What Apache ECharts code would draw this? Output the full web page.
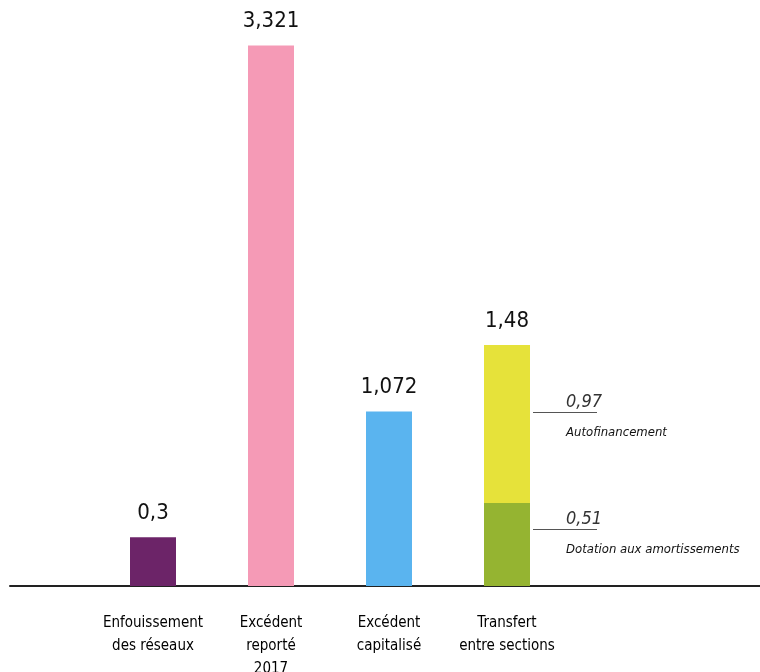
<!DOCTYPE html>
<html>
<head>
<meta charset="utf-8">
<script src="https://cdn.jsdelivr.net/npm/echarts@6/dist/echarts.min.js"></script>
<style>
html,body{margin:0;padding:0;background:#fff;}
#chart{width:760px;height:672px;}
</style>
</head>
<body>
<div id="chart"></div>
<script>
var categories = ['Enfouissement\ndes réseaux', 'Excédent\nreporté\n2017', 'Excédent\ncapitalisé', 'Transfert\nentre sections'];
var mainValues = [0.3, 3.321, 1.072, null];
var mainColors = ['#6c2468', '#f59ab6', '#5ab4ef', null];
var dotationValues = [null, null, null, 0.51];
var autofinValues = [null, null, null, 0.97];
var totalValues = [null, null, null, 1.48];
var dotationName = 'Dotation aux amortissements';
var autofinName = 'Autofinancement';

var FONT = "'Liberation Sans Narrow','DejaVu Sans Condensed','Roboto Condensed','Liberation Sans',sans-serif";
function fmt(v){ return String(v).replace('.', ','); }

var chart = echarts.init(document.getElementById('chart'), null, {renderer:'canvas'});

function annotRich(){
  return {
    sp: {width: 33, height: 1},
    v: {fontFamily: FONT, fontStyle: 'italic', fontSize: 18, color: '#333', lineHeight: 20},
    ln: {width: 64, height: 1, backgroundColor: '#555', lineHeight: 1},
    n: {fontFamily: FONT, fontStyle: 'italic', fontSize: 13, color: '#111', lineHeight: 39}
  };
}

var option = {
  backgroundColor: '#fff',
  animation: false,
  grid: [
    {left: 94, width: 472, top: 0, bottom: 86, containLabel: false, outerBoundsMode: 'none'},
    {left: 10, right: 0, top: 0, bottom: 86, containLabel: false, outerBoundsMode: 'none'}
  ],
  xAxis: [
    {
      type: 'category', gridIndex: 0, data: categories,
      axisLine: {show: false}, axisTick: {show: false},
      axisLabel: {fontFamily: FONT, fontSize: 15, lineHeight: 23, color: '#000', margin: 26, interval: 0}
    },
    {
      type: 'value', gridIndex: 1, min: 0, max: 1,
      axisLine: {show: true, onZero: false, lineStyle: {color: '#222', width: 2}},
      axisTick: {show: false}, axisLabel: {show: false}, splitLine: {show: false}
    }
  ],
  yAxis: [
    {type: 'value', gridIndex: 0, min: 0, max: 3.6, show: false, splitLine: {show: false}},
    {type: 'value', gridIndex: 1, min: 0, max: 1, show: false, splitLine: {show: false}}
  ],
  series: [
    {
      name: 'main', type: 'bar', stack: 's', barWidth: 46,
      data: mainValues.map(function(v, i){ return {value: v, itemStyle: {color: mainColors[i]}}; }),
      label: {show: true, position: 'top', distance: 13, fontFamily: FONT, fontSize: 22, color: '#111',
        formatter: function(p){ return fmt(p.value); }}
    },
    {
      name: dotationName, type: 'bar', stack: 's', barWidth: 46,
      itemStyle: {color: '#95b431'},
      data: dotationValues,
      label: {show: true, position: ['100%', 0], offset: [3, 6],
        formatter: function(p){ return '{sp|}{v|' + fmt(p.value) + '}\n{ln|}\n{sp|}{n|' + dotationName + '}'; },
        rich: annotRich()}
    },
    {
      name: autofinName, type: 'bar', stack: 's', barWidth: 46,
      itemStyle: {color: '#e6e23a'},
      data: autofinValues,
      label: {show: true, position: ['100%', 0], offset: [3, 47],
        formatter: function(p){ return '{sp|}{v|' + fmt(p.value) + '}\n{ln|}\n{sp|}{n|' + autofinName + '}'; },
        rich: annotRich()}
    },
    {
      name: 'total', type: 'bar', stack: 's', barWidth: 46,
      itemStyle: {color: 'rgba(0,0,0,0)'},
      data: totalValues.map(function(v){ return v == null ? null : {value: 0}; }),
      label: {show: true, position: 'top', distance: 13, fontFamily: FONT, fontSize: 22, color: '#111',
        formatter: function(p){ return fmt(totalValues[p.dataIndex]); }}
    }
  ]
};
chart.setOption(option);
</script>
</body>
</html>
